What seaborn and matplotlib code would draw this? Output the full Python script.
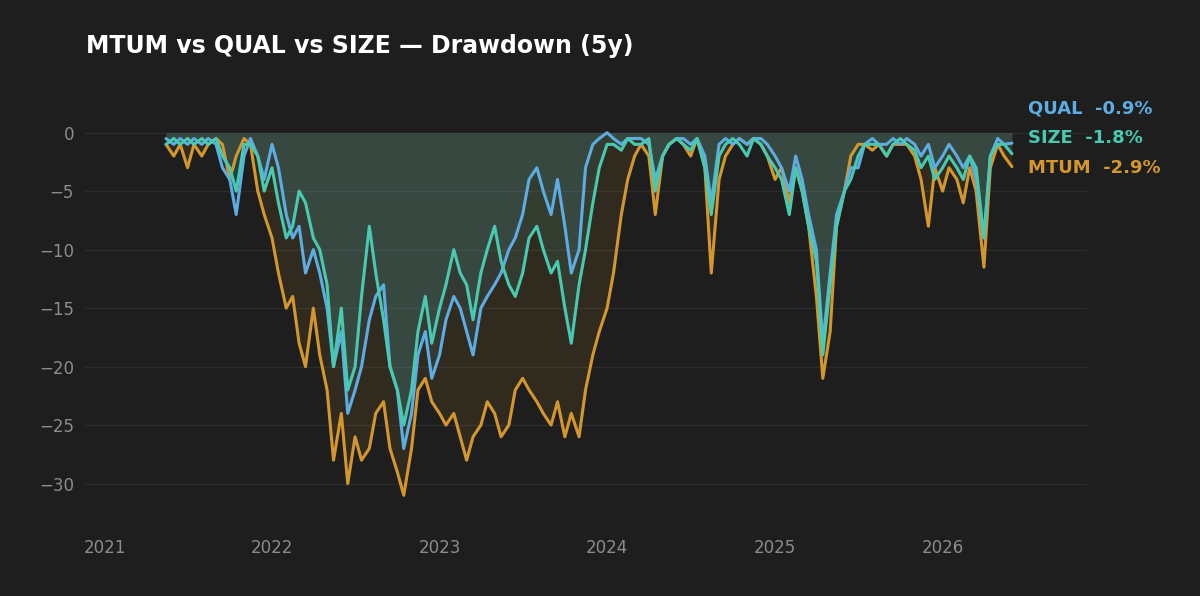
import matplotlib
matplotlib.use("Agg")
import matplotlib.pyplot as plt
import seaborn as sns
import pandas as pd

mtum = [-1,-2,-1,-3,-1,-2,-1,-0.5,-1,-4,-2,-0.5,-1,-5,-7,-9,
        -12,-15,-14,-18,-20,-15,-19,-22,-28,-24,-30,-26,-28,-27,-24,-23,-27,-29,-31,-27,-22,-21,-23,-24,
        -25,-24,-26,-28,-26,-25,-23,-24,-26,-25,-22,-21,-22,-23,-24,-25,-23,-26,-24,-26,-22,-19,-17,-15,
        -12,-7,-4,-2,-1,-2,-7,-2,-1,-0.5,-1,-2,-0.5,-3,-12,-4,-2,-1,-0.5,-1,-0.5,-1,-2,-4,
        -3,-6,-3,-5,-8,-14,-21,-17,-8,-5,-2,-1,-1,-1.5,-1,-2,-1,-1,-1,-2,-4,-8,-3,-5,
        -3,-4,-6,-3,-5,-11.5,-3,-1,-2,-2.9]
qual = [-0.5,-1,-0.5,-1,-0.5,-1,-0.5,-1,-3,-4,-7,-2,-0.5,-2,-4,-1,
        -3,-7,-9,-8,-12,-10,-12,-15,-20,-17,-24,-22,-20,-16,-14,-13,-20,-22,-27,-24,-19,-17,-21,-19,
        -16,-14,-15,-17,-19,-15,-14,-13,-12,-10,-9,-7,-4,-3,-5,-7,-4,-8,-12,-10,-3,-1,-0.5,0,
        -0.5,-1,-0.5,-0.5,-0.5,-1,-4,-2,-1,-0.5,-0.5,-1,-0.5,-2,-6,-1,-0.5,-1,-0.5,-1,-0.5,-0.5,-1,-2,
        -3,-5,-2,-4,-7,-10,-18,-12,-7,-5,-3,-3,-1,-0.5,-1,-1,-0.5,-1,-0.5,-1,-2,-1,-3,-2,
        -1,-2,-3,-2,-4,-9,-2,-0.5,-1,-0.9]
size = [-1,-0.5,-1,-0.5,-1,-0.5,-1,-0.5,-2,-3,-5,-1,-1,-2,-5,-3,
        -6,-9,-8,-5,-6,-9,-10,-13,-20,-15,-22,-20,-14,-8,-12,-16,-20,-22,-25,-22,-17,-14,-18,-15,
        -13,-10,-12,-13,-16,-12,-10,-8,-11,-13,-14,-12,-9,-8,-10,-12,-11,-15,-18,-13,-10,-6,-3,-1,
        -1,-1.5,-0.5,-1,-1,-0.5,-5,-2,-1,-0.5,-1,-1.5,-0.5,-3,-7,-2,-1,-0.5,-1,-2,-0.5,-1,-2,-3,
        -4,-7,-3,-5,-8,-11,-19,-13,-8,-5,-4,-2,-1,-1,-1,-2,-1,-0.5,-1,-1.5,-3,-2,-4,-3,
        -2,-3,-4,-2,-3,-9,-2,-1,-1,-1.8]
dates = pd.date_range("2021-05-15", periods=len(mtum), freq="SMS")
names = ["MTUM", "QUAL", "SIZE"]
colors = {"MTUM": "#D4962E", "QUAL": "#5DADE2", "SIZE": "#48C9B0"}
legend_order = ["QUAL", "SIZE", "MTUM"]
last_vals = {"QUAL": -0.9, "SIZE": -1.8, "MTUM": -2.9}

df = pd.DataFrame({"date": dates, "MTUM": mtum, "QUAL": qual, "SIZE": size})
long = df.melt("date", var_name="fund", value_name="dd")

bg = "#1e1e1e"
sns.set_theme(style="dark")
plt.rcParams["font.family"] = ["DejaVu Sans"]
fig = plt.figure(figsize=(12, 5.96), dpi=100, facecolor=bg)
ax = fig.add_axes([0.071, 0.114, 0.835, 0.738], facecolor=bg)

for n in names:
    ax.fill_between(df["date"], df[n], 0, color=colors[n], alpha=0.11, lw=0)
sns.lineplot(data=long, x="date", y="dd", hue="fund", hue_order=names,
             palette=colors, lw=2.2, ax=ax, legend=False)

ax.set_xlim(pd.Timestamp("2020-11-20"), pd.Timestamp("2026-11-12"))
ax.set_ylim(-33.8, 3.8)
ax.set_yticks([0, -5, -10, -15, -20, -25, -30])
ax.set_xticks([pd.Timestamp(f"{y}-01-01") for y in range(2021, 2027)])
ax.set_xticklabels([str(y) for y in range(2021, 2027)])
ax.set_xlabel(""); ax.set_ylabel("")
ax.grid(axis="y", color="#2c2c2c", lw=1)
ax.grid(axis="x", visible=False)
for s in ax.spines.values():
    s.set_visible(False)
ax.tick_params(colors="#8c8c8c", labelsize=12, length=0, pad=8)

fig.text(0.072, 0.922, "MTUM vs QUAL vs SIZE — Drawdown (5y)", color="white",
         fontsize=17, fontweight="bold", va="center")
for i, n in enumerate(legend_order):
    fig.text(0.857, 0.818 - i * 0.05, f"{n}  {last_vals[n]:.1f}%", color=colors[n],
             fontsize=13, fontweight="bold", va="center")
fig.savefig("out.png", facecolor=bg)
